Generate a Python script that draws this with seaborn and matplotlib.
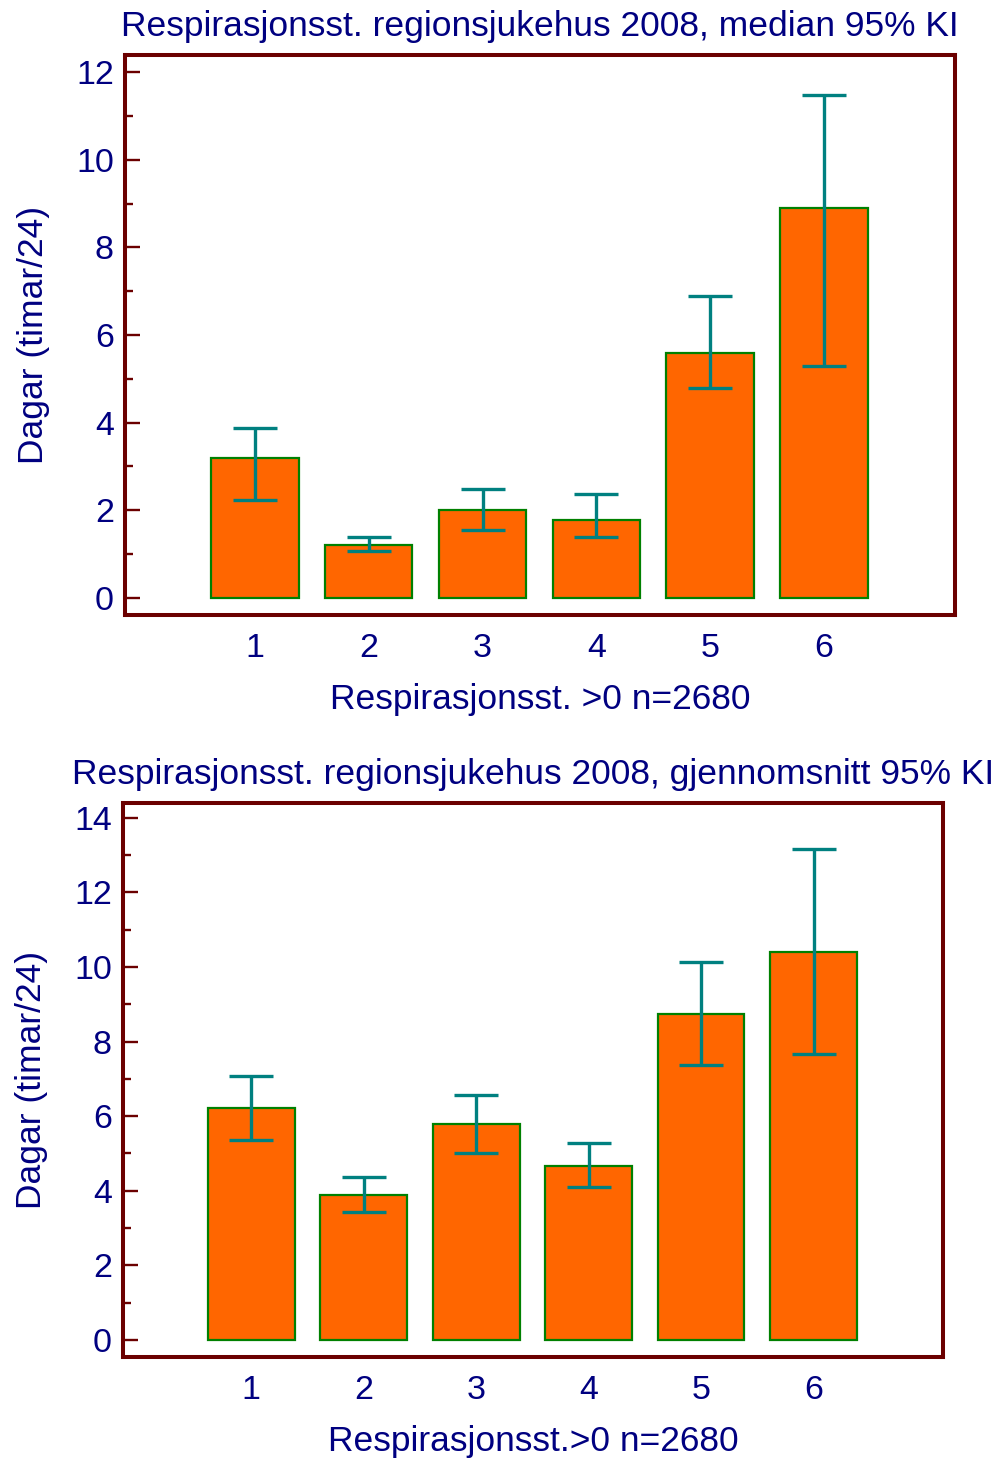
import matplotlib
matplotlib.use("Agg")
import matplotlib.pyplot as plt
from matplotlib.ticker import MultipleLocator
import seaborn as sns
import pandas as pd
import numpy as np

# ---------------- data ----------------
categories = ["1", "2", "3", "4", "5", "6"]

median_values = [3.2, 1.2, 2.0, 1.78, 5.58, 8.9]
median_ci_low = [2.23, 1.07, 1.56, 1.39, 4.78, 5.29]
median_ci_high = [3.88, 1.40, 2.49, 2.38, 6.89, 11.47]

mean_values = [6.23, 3.89, 5.79, 4.67, 8.75, 10.40]
mean_ci_low = [5.35, 3.44, 5.01, 4.10, 7.37, 7.67]
mean_ci_high = [7.08, 4.37, 6.57, 5.28, 10.13, 13.16]

title_top = "Respirasjonsst. regionsjukehus 2008, median 95% KI"
title_bottom = "Respirasjonsst. regionsjukehus 2008, gjennomsnitt 95% KI"
xlabel_top = "Respirasjonsst. >0 n=2680"
xlabel_bottom = "Respirasjonsst.>0 n=2680"
ylabel = "Dagar (timar/24)"

# ---------------- style ----------------
sns.set_theme(style="white")
plt.rcParams["font.family"] = ["Liberation Sans", "DejaVu Sans"]

TEXT = "#000080"
SPINE = "#6B0000"
BAR = "#FF6600"
EDGE = "#008000"
ERR = "#008080"

W, H = 993, 1458
fig = plt.figure(figsize=(W / 100, H / 100), dpi=100)


def add_ax(left, right, top, bottom):
    return fig.add_axes([left / W, 1 - bottom / H, (right - left) / W, (bottom - top) / H])


def draw(ax, vals, lo, hi, title, xlabel, ylim, ymaj):
    df = pd.DataFrame({"cat": categories, "val": vals})
    sns.barplot(data=df, x="cat", y="val", ax=ax, color=BAR, saturation=1,
                width=0.77, edgecolor=EDGE, linewidth=1.6, errorbar=None)
    v = np.array(vals)
    yerr = np.vstack([v - np.array(lo), np.array(hi) - v])
    ax.errorbar(np.arange(len(categories)), v, yerr=yerr, fmt="none",
                ecolor=ERR, elinewidth=2.4, capsize=15.5, capthick=2.4, zorder=5)
    ax.set_xlim(-1.14, 6.15)
    ax.set_ylim(*ylim)
    ax.yaxis.set_major_locator(MultipleLocator(ymaj))
    ax.yaxis.set_minor_locator(MultipleLocator(ymaj / 2))
    for s in ax.spines.values():
        s.set_color(SPINE)
        s.set_linewidth(2.9)
        s.set_visible(True)
    ax.tick_params(axis="y", which="major", direction="in", length=11, width=1.7,
                   color=SPINE, labelcolor=TEXT, labelsize=24.5, pad=8, left=True)
    ax.tick_params(axis="y", which="minor", direction="in", length=5.5, width=1.7,
                   color=SPINE, left=True)
    ax.tick_params(axis="x", length=0, labelcolor=TEXT, labelsize=24.5, pad=13)
    ax.set_title(title, color=TEXT, fontsize=25.5, pad=14)
    ax.set_xlabel(xlabel, color=TEXT, fontsize=25.5, labelpad=14)
    ax.set_ylabel(ylabel, color=TEXT, fontsize=25.5, labelpad=19)
    ax.set_facecolor("white")


ax1 = add_ax(125, 955, 55, 615)
draw(ax1, median_values, median_ci_low, median_ci_high, title_top, xlabel_top,
     (-0.39, 12.39), 2)

ax2 = add_ax(123, 943, 803, 1357)
draw(ax2, mean_values, mean_ci_low, mean_ci_high, title_bottom, xlabel_bottom,
     (-0.46, 14.4), 2)

fig.savefig("out.png", dpi=100, facecolor="white")
